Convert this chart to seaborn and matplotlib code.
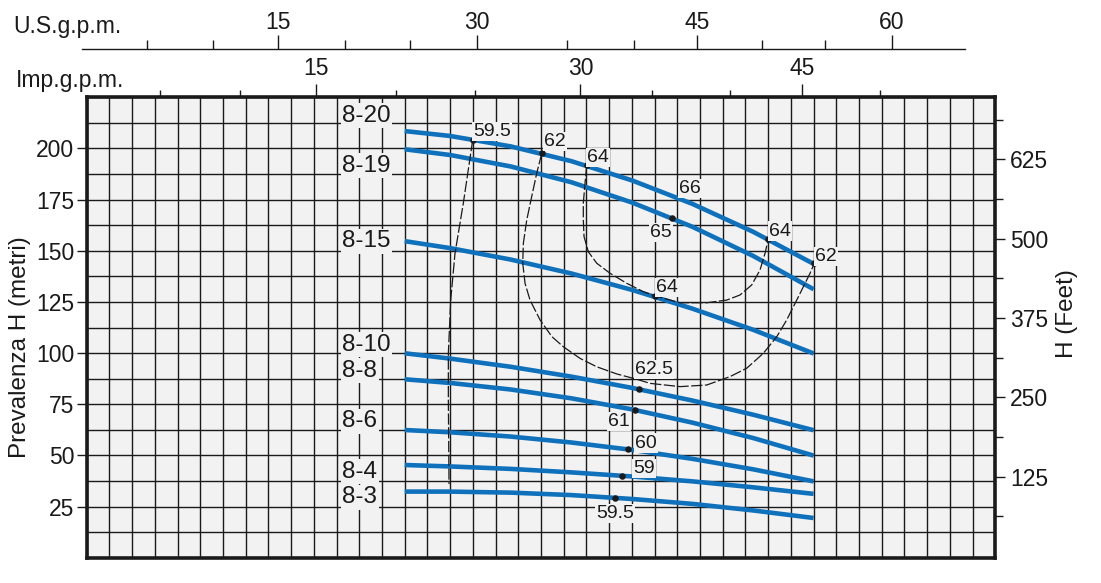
import numpy as np
import pandas as pd
import matplotlib
matplotlib.use("Agg")
import matplotlib.pyplot as plt
import seaborn as sns
from matplotlib.ticker import FixedLocator

# ---------------- data ----------------
flow = [5.25, 6, 7, 8, 9, 10, 11, 12]          # m3/h
models = ["8-20", "8-19", "8-15", "8-10", "8-8", "8-6", "8-4", "8-3"]
h_8_20 = [208.5, 206.1, 201.0, 193.8, 184.4, 172.9, 159.3, 143.6]
h_8_19 = [199.6, 196.8, 191.2, 183.5, 173.6, 161.7, 147.5, 131.2]
h_8_15 = [154.7, 151.3, 145.7, 138.9, 130.9, 121.7, 111.4, 99.8]
h_8_10 = [99.9, 97.3, 93.3, 88.5, 83.0, 76.8, 69.9, 62.3]
h_8_8 = [87.2, 85.4, 82.2, 77.9, 72.5, 66.0, 58.5, 49.9]
h_8_6 = [62.4, 61.3, 59.2, 56.3, 52.7, 48.3, 43.2, 37.3]
h_8_4 = [45.3, 44.6, 43.4, 41.7, 39.7, 37.3, 34.4, 31.2]
h_8_3 = [32.3, 32.3, 31.8, 30.6, 28.7, 26.3, 23.1, 19.4]
heads = [h_8_20, h_8_19, h_8_15, h_8_10, h_8_8, h_8_6, h_8_4, h_8_3]

model_label_flow = 4.22
model_label_head = [213.1, 188.6, 151.7, 101.2, 88.5, 63.7, 39.1, 26.6]

# iso-efficiency curves
eff595_flow = [6.372, 6.217, 6.080, 6.009, 5.970, 5.970, 5.981]
eff595_head = [204.1, 173.2, 148.8, 125.9, 99.9, 77.0, 36.0]
eff62_flow = [7.512, 7.429, 7.346, 7.264, 7.208, 7.198, 7.236, 7.318, 7.484, 7.677,
              7.868, 8.144, 8.420, 8.750, 9.080, 9.300, 9.795, 10.236, 10.620, 10.896,
              11.170, 11.391, 11.556, 11.721, 11.830, 11.941, 12.012]
eff62_head = [197.6, 187.9, 176.5, 165.0, 153.6, 143.9, 134.1, 125.9, 116.2, 108.1,
              103.1, 97.4, 93.3, 89.8, 87.2, 85.2, 83.6, 84.4, 88.5, 92.6,
              99.9, 108.0, 116.2, 125.9, 132.4, 139.0, 143.9]
eff64_flow = [8.255, 8.226, 8.198, 8.198, 8.210, 8.281, 8.420, 8.639, 8.915, 9.189,
              9.382, 9.795, 10.236, 10.566, 10.785, 10.978, 11.115, 11.198, 11.253]
eff64_head = [191.9, 183.0, 173.2, 165.0, 156.9, 149.5, 143.9, 139.0, 134.1, 130.0,
              127.9, 124.6, 124.6, 125.9, 128.4, 133.3, 140.6, 148.8, 155.8]

dot_flow = [6.372, 7.512, 8.255, 9.668, 11.253, 12.012, 9.382, 9.123, 9.052, 8.931, 8.832, 8.721]
dot_head = [204.1, 197.6, 191.9, 165.9, 155.8, 143.9, 127.9, 82.3, 72.2, 53.0, 40.1, 29.3]

eff_text = ["59.5", "62", "64", "66", "65", "64", "62", "64", "62.5", "61", "60", "59", "59.5"]
eff_text_flow = [6.383, 7.550, 8.264, 9.781, 9.658, 11.269, 12.023, 9.399, 9.052, 8.969, 9.052, 9.024, 8.721]
eff_text_head = [206.1, 201.2, 193.5, 178.1, 156.6, 157.4, 145.1, 129.7, 89.8, 64.4, 53.8, 41.5, 19.3]
eff_text_ha = ["left", "left", "left", "left", "right", "left", "left", "left", "left", "right", "left", "left", "center"]

# top scales (positions on the flow axis, as drawn)
us_major_pos = [3.153, 6.438, 10.075, 13.294]
us_major_lab = ["15", "30", "45", "60"]
us_minor_pos = [0.991, 2.090, 4.269, 5.337, 7.934, 9.030, 11.148, 12.193]
imp_major_pos = [3.786, 8.149, 11.809]
imp_major_lab = ["15", "30", "45"]
imp_minor_pos = [1.215, 2.531, 5.106, 6.405, 9.332, 10.625, 13.101]

feet_major = [125, 250, 375, 500, 625]
feet_minor = [62.5, 187.5, 312.5, 437.5, 562.5, 687.5]
left_ticks = [25, 50, 75, 100, 125, 150, 175, 200]

# ---------------- style ----------------
sns.set_style("ticks")
plt.rcParams["font.family"] = ["Liberation Sans", "DejaVu Sans"]
BG = "#f2f2f2"
BLUE = "#0f71bb"
INK = "#1a1a1a"
ARIAL = "Liberation Sans"
TICK_FS = 16.5

fig = plt.figure(figsize=(11.01, 5.83), dpi=100)
ax = fig.add_axes([0.07875, 0.0434, 0.8253, 0.7897])
ax.set_facecolor(BG)
ax.set_xlim(0, 15)
ax.set_ylim(0, 225)

# grid
ax.xaxis.set_major_locator(FixedLocator([]))
ax.xaxis.set_minor_locator(FixedLocator(np.arange(0, 15.001, 0.375)))
ax.yaxis.set_major_locator(FixedLocator(left_ticks))
ax.yaxis.set_minor_locator(FixedLocator(np.arange(0, 225.001, 12.5)))
ax.yaxis.remove_overlapping_locs = False
ax.xaxis.remove_overlapping_locs = False
ax.grid(which="minor", color=INK, lw=1.0)
ax.grid(which="major", visible=False)
ax.set_axisbelow(True)
ax.tick_params(axis="x", which="both", length=0, labelbottom=False, bottom=False, top=False)
ax.tick_params(axis="y", which="minor", length=0)
ax.tick_params(axis="y", which="major", length=7, width=1, pad=2,
               labelsize=TICK_FS, colors=INK, direction="out")
for s in ax.spines.values():
    s.set_visible(True)
    s.set_linewidth(2.6)
    s.set_color(INK)

# pump curves
curves = pd.DataFrame(
    [(m, f, h) for m, hs in zip(models, heads) for f, h in zip(flow, hs)],
    columns=["model", "flow", "head"],
)
sns.lineplot(data=curves, x="flow", y="head", hue="model", palette=[BLUE] * len(models),
             legend=False, lw=3.3, sort=False, estimator=None, ax=ax, zorder=3,
             solid_capstyle="butt")

# efficiency curves
eff = pd.concat([
    pd.DataFrame({"curve": "59.5", "flow": eff595_flow, "head": eff595_head}),
    pd.DataFrame({"curve": "62", "flow": eff62_flow, "head": eff62_head}),
    pd.DataFrame({"curve": "64", "flow": eff64_flow, "head": eff64_head}),
])
sns.lineplot(data=eff, x="flow", y="head", units="curve", estimator=None, sort=False,
             color=INK, lw=0.9, linestyle=(0, (9, 2)), ax=ax, zorder=3)
sns.scatterplot(x=dot_flow, y=dot_head, color=INK, s=22, linewidth=0, ax=ax, zorder=4)

ax.set_xlabel("")
ax.set_ylabel("")

# model labels
for name, h in zip(models, model_label_head):
    ax.text(model_label_flow, h, name, ha="left", va="baseline", fontsize=17.5,
            family=ARIAL, color=INK, zorder=5,
            bbox=dict(boxstyle="square,pad=0.06", fc=BG, ec="none"))

# efficiency labels
for t, f, h, ha in zip(eff_text, eff_text_flow, eff_text_head, eff_text_ha):
    ax.text(f, h, t, ha=ha, va="baseline", fontsize=14, color=INK, zorder=5,
            bbox=dict(boxstyle="square,pad=0.06", fc=BG, ec="none"))

# Imp g.p.m. scale on the top frame
imp = ax.secondary_xaxis("top")
imp.xaxis.set_major_locator(FixedLocator(imp_major_pos))
imp.set_xticklabels(imp_major_lab)
imp.xaxis.set_minor_locator(FixedLocator(imp_minor_pos))
imp.tick_params(which="major", length=9.5, width=1, pad=3, labelsize=TICK_FS, colors=INK)
imp.tick_params(which="minor", length=5, width=1, colors=INK)
imp.spines["top"].set_visible(False)

# U.S. g.p.m. scale above
us = ax.secondary_xaxis(1.1043)
us.xaxis.set_major_locator(FixedLocator(us_major_pos))
us.set_xticklabels(us_major_lab)
us.xaxis.set_minor_locator(FixedLocator(us_minor_pos))
us.tick_params(which="major", length=10, width=1, pad=1, labelsize=TICK_FS, colors=INK)
us.tick_params(which="minor", length=6.3, width=1, colors=INK)
us.spines["top"].set_linewidth(1.0)
us.spines["top"].set_color(INK)
us.spines["top"].set_bounds(-0.078, 14.5)

# feet scale on the right
ax2 = ax.twinx()
ax2.set_ylim(-2.6, 722.7)
ax2.yaxis.set_major_locator(FixedLocator(feet_major))
ax2.yaxis.set_minor_locator(FixedLocator(feet_minor))
ax2.tick_params(axis="y", which="major", length=7.2, width=1, pad=3.5,
                labelsize=TICK_FS, colors=INK, direction="out")
ax2.tick_params(axis="y", which="minor", length=5.5, width=1, colors=INK, direction="out")
ax2.grid(False)
for s in ax2.spines.values():
    s.set_visible(False)

fig.text(0.0121, 0.9429, "U.S.g.p.m.", fontsize=16.5, color=INK, ha="left", va="baseline")
fig.text(0.0145, 0.8508, "Imp.g.p.m.", fontsize=16.5, color=INK, ha="left", va="baseline")
fig.text(0.0182, 0.404, "Prevalenza H (metri)", rotation=90, ha="center", va="center",
         fontsize=17.5, family=ARIAL, color=INK)
fig.text(0.9691, 0.4614, "H (Feet)", rotation=90, ha="center", va="center",
         fontsize=17.5, family=ARIAL, color=INK)

fig.savefig("out.png", dpi=100)
